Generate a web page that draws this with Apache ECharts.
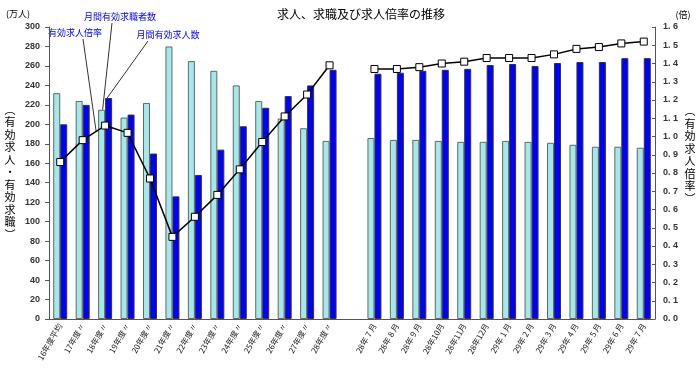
<!DOCTYPE html>
<html><head><meta charset="utf-8">
<script src="https://cdn.jsdelivr.net/npm/echarts@6/dist/echarts.min.js"></script>
<style>html,body{margin:0;padding:0;background:#fff}#c{width:700px;height:375px}</style>
</head><body><div id="c"></div>
<script>
const categories = ['16年度平均','17年度〃','18年度〃','19年度〃','20年度〃','21年度〃','22年度〃','23年度〃','24年度〃','25年度〃','26年度〃','27年度〃','28年度〃','',
  '28年 7 月','28年 8 月','28年 9 月','28年10月','28年11月','28年12月','29年 1 月','29年 2 月','29年 3 月','29年 4 月','29年 5 月','29年 6 月','29年 7 月'];
const seekers = [232,224,215,207,222,280,265,255,240,224,206,196,183,null,186,184,184,183,182,182,183,182,181,179,177,177,176];
const openings = [200,220,227,210,170,126,148,174,198,217,229,240,256,null,252,253,255,256,257,261,262,260,263,264,264,268,268];
const ratio = [0.86,0.98,1.06,1.02,0.77,0.45,0.56,0.68,0.82,0.97,1.11,1.23,1.39,null,1.37,1.37,1.38,1.40,1.41,1.43,1.43,1.43,1.45,1.48,1.49,1.51,1.52];
const leftTicks = {min:0, max:300, interval:20};
const rightTicks = {min:0, max:1.6, interval:0.1};
const titleText = '求人、求職及び求人倍率の推移';
const leftName = '︵有効求人・有効求職︶';
const rightName = '︵有効求人倍率︶';

const JP = '"Noto Sans CJK JP", sans-serif';
const NUM = '"Liberation Sans", Arial, sans-serif';
const chart = echarts.init(document.getElementById('c'));
chart.setOption({
  animation: false,
  grid: {left: 49, right: 45, top: 27, bottom: 56},
  xAxis: {
    type: 'category', data: categories,
    axisLine: {lineStyle: {color: '#555'}},
    axisTick: {length: 3, lineStyle: {color: '#555'}},
    axisLabel: {rotate: 60, interval: 0, fontSize: 8, fontFamily: JP, color: '#222', margin: 5}
  },
  yAxis: [
    {type: 'value', min: leftTicks.min, max: leftTicks.max, interval: leftTicks.interval,
     axisLine: {show: true, lineStyle: {color: '#555'}},
     axisTick: {show: true, length: 4, lineStyle: {color: '#555'}},
     splitLine: {show: false},
     axisLabel: {fontSize: 9, fontFamily: NUM, fontWeight: 'bold', color: '#333', margin: 9}},
    {type: 'value', position: 'right', min: rightTicks.min, max: rightTicks.max, interval: rightTicks.interval,
     axisLine: {show: true, lineStyle: {color: '#555'}},
     axisTick: {show: true, inside: true, length: 3, lineStyle: {color: '#555'}},
     splitLine: {show: false},
     axisLabel: {fontSize: 9, fontFamily: NUM, fontWeight: 'bold', color: '#333', margin: 8,
       formatter: v => v.toFixed(1).replace('.', '. ')}}
  ],
  series: [
    {type: 'bar', name: '月間有効求職者数', data: seekers, barWidth: 7, barGap: '0%',
     itemStyle: {color: '#a3e9e9', borderColor: '#666', borderWidth: 1}},
    {type: 'bar', name: '月間有効求人数', data: openings, barWidth: 7,
     itemStyle: {color: '#0000ff', borderColor: '#333', borderWidth: 1}},
    {type: 'line', name: '有効求人倍率', yAxisIndex: 1, data: ratio, connectNulls: false,
     symbol: 'rect', symbolSize: 7,
     lineStyle: {color: '#000', width: 1.5},
     itemStyle: {color: '#fff', borderColor: '#000', borderWidth: 1}}
  ]
});

const pL = (i, v) => chart.convertToPixel({xAxisIndex: 0, yAxisIndex: 0}, [i, v]);
const pR = (i, v) => chart.convertToPixel({xAxisIndex: 0, yAxisIndex: 1}, [i, v]);
const a = pR(1, ratio[1]), b = pR(2, ratio[2]);
const rEnd = [a[0] + (b[0] - a[0]) * 0.6, a[1] + (b[1] - a[1]) * 0.6];
const sEnd = pL(2, seekers[2]); sEnd[0] -= 2.5;
const oEnd = pL(2, openings[2]); oEnd[0] += 2;

const txt = (x, y, text, style) => ({type: 'text', x, y, style: Object.assign({text, fontFamily: JP}, style)});
chart.setOption({
  graphic: [
    txt(361, 14, titleText, {fontSize: 12, fill: '#000', align: 'center', verticalAlign: 'middle'}),
    txt(18, 14, '(万人)', {fontSize: 9, fill: '#000', align: 'center', verticalAlign: 'middle'}),
    txt(683, 15, '(倍)', {fontSize: 9, fill: '#000', align: 'center', verticalAlign: 'middle'}),
    txt(10, 172, leftName.split('').join('\n'), {fontSize: 11, lineHeight: 12.5, fill: '#000', align: 'center', verticalAlign: 'middle'}),
    txt(690, 155, rightName.split('').join('\n'), {fontSize: 11, lineHeight: 12.5, fill: '#000', align: 'center', verticalAlign: 'middle'}),
    txt(75, 33, '有効求人倍率', {fontSize: 9, fill: '#0000ff', align: 'center', verticalAlign: 'middle'}),
    txt(120, 17, '月間有効求職者数', {fontSize: 9, fill: '#0000ff', align: 'center', verticalAlign: 'middle'}),
    txt(168, 35, '月間有効求人数', {fontSize: 9, fill: '#0000ff', align: 'center', verticalAlign: 'middle'}),
    {type: 'line', shape: {x1: 83, y1: 39, x2: rEnd[0], y2: rEnd[1]}, style: {stroke: '#333', lineWidth: 1}},
    {type: 'line', shape: {x1: 112, y1: 23, x2: sEnd[0], y2: sEnd[1]}, style: {stroke: '#333', lineWidth: 1}},
    {type: 'line', shape: {x1: 148, y1: 41, x2: oEnd[0], y2: oEnd[1]}, style: {stroke: '#333', lineWidth: 1}}
  ]
});
</script></body></html>
